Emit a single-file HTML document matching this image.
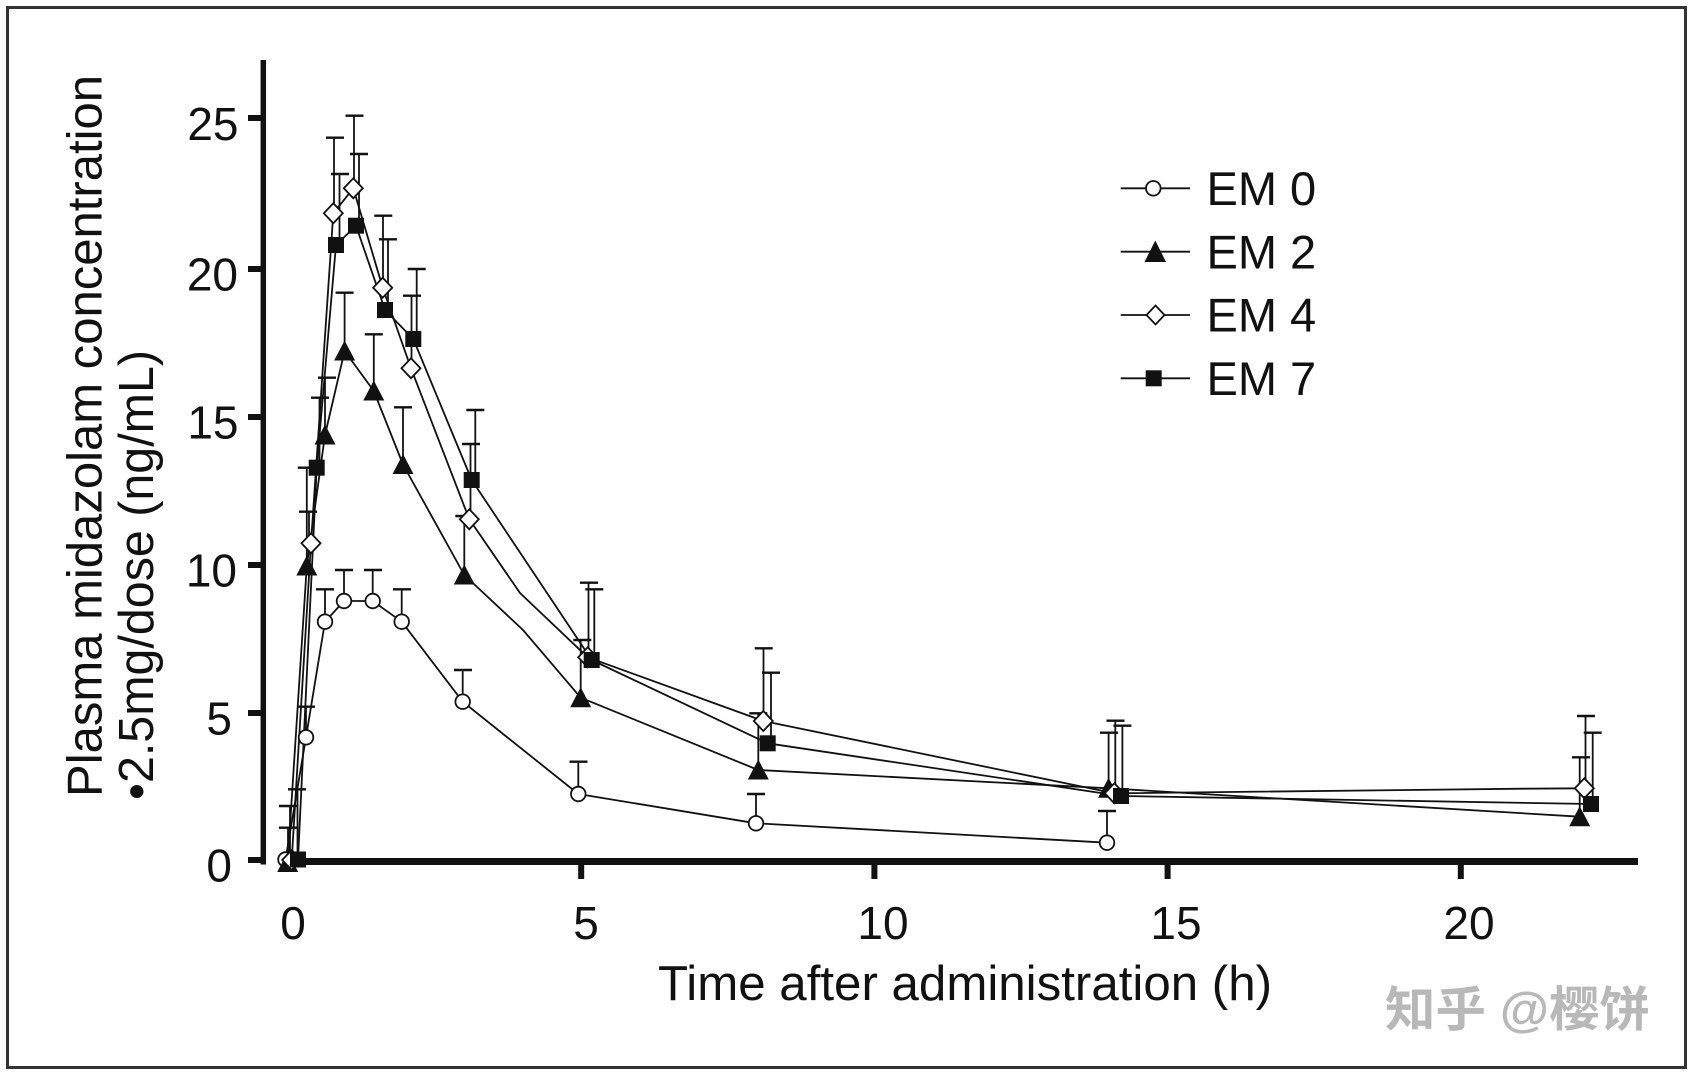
<!DOCTYPE html>
<html>
<head>
<meta charset="utf-8">
<style>
html,body{margin:0;padding:0;background:#fff;}
svg{display:block;}
text{font-family:"Liberation Sans",Arial,sans-serif;fill:#111;}
</style>
</head>
<body>
<svg width="1694" height="1075" viewBox="0 0 1694 1075" xmlns="http://www.w3.org/2000/svg">
<rect x="0" y="0" width="1694" height="1075" fill="#fff"/>
<rect x="7.5" y="7.5" width="1678" height="1060" fill="none" stroke="#333" stroke-width="3"/>

<!-- axes -->
<line x1="263.3" y1="60" x2="263.3" y2="864.5" stroke="#111" stroke-width="5.5"/>
<line x1="290" y1="861.5" x2="1638" y2="861.5" stroke="#111" stroke-width="7"/>
<g fill="#111">
<rect x="248" y="115" width="15" height="6"/>
<rect x="248" y="266" width="15" height="6"/>
<rect x="248" y="414" width="15" height="6"/>
<rect x="248" y="562" width="15" height="6"/>
<rect x="248" y="710" width="15" height="6"/>
<rect x="248" y="857" width="15" height="6"/>
<rect x="578.2" y="864" width="6" height="15"/>
<rect x="871.4" y="864" width="6" height="15"/>
<rect x="1164.6" y="864" width="6" height="15"/>
<rect x="1457.8" y="864" width="6" height="15"/>
</g>

<!-- tick labels -->
<g font-size="46" text-anchor="end">
<text x="238.5" y="140">25</text>
<text x="238" y="290.5">20</text>
<text x="238.5" y="438.5">15</text>
<text x="237" y="586.5">10</text>
<text x="232" y="734.5">5</text>
<text x="232" y="881.5">0</text>
</g>
<g font-size="46" text-anchor="middle">
<text x="293" y="939">0</text>
<text x="586" y="939">5</text>
<text x="883" y="939">10</text>
<text x="1176" y="939">15</text>
<text x="1469" y="939">20</text>
</g>

<!-- axis titles -->
<text x="658" y="1000" font-size="49" textLength="614" lengthAdjust="spacingAndGlyphs">Time after administration (h)</text>
<text transform="translate(101.7,797) rotate(-90)" font-size="49" textLength="722" lengthAdjust="spacingAndGlyphs">Plasma midazolam concentration</text>
<text transform="translate(153,800) rotate(-90)" font-size="49" textLength="450" lengthAdjust="spacingAndGlyphs">•2.5mg/dose (ng/mL)</text>

<!-- error bars -->
<g stroke="#111" fill="none">
<g stroke-width="1.8">
<!-- EM0 -->
<line x1="306" y1="737.3" x2="306" y2="706.7"/>
<line x1="325" y1="621.7" x2="325" y2="589.3"/>
<line x1="344" y1="601" x2="344" y2="570"/>
<line x1="372.7" y1="601" x2="372.7" y2="570"/>
<line x1="401.7" y1="621.7" x2="401.7" y2="589.3"/>
<line x1="462.7" y1="701.7" x2="462.7" y2="670"/>
<line x1="578.3" y1="794" x2="578.3" y2="761.7"/>
<line x1="756" y1="823.3" x2="756" y2="794"/>
<line x1="1107" y1="842.7" x2="1107" y2="811"/>
<!-- EM2 -->
<line x1="288" y1="861" x2="288" y2="827.7"/>
<line x1="306.8" y1="566" x2="306.8" y2="467.7"/>
<line x1="325" y1="435" x2="325" y2="377.7"/>
<line x1="344.6" y1="351" x2="344.6" y2="292.7"/>
<line x1="373.8" y1="391" x2="373.8" y2="334.3"/>
<line x1="403" y1="464.5" x2="403" y2="407.3"/>
<line x1="464.3" y1="575" x2="464.3" y2="516"/>
<line x1="580.7" y1="697.7" x2="580.7" y2="640"/>
<line x1="758.3" y1="770" x2="758.3" y2="713.3"/>
<line x1="1108.6" y1="788.3" x2="1108.6" y2="732.7"/>
<line x1="1579.7" y1="816.7" x2="1579.7" y2="757.3"/>
<!-- EM4 -->
<line x1="290" y1="860" x2="290" y2="806"/>
<line x1="309" y1="543.3" x2="309" y2="511.7"/>
<line x1="334" y1="213.3" x2="334" y2="137.7"/>
<line x1="354" y1="188.3" x2="354" y2="115.7"/>
<line x1="383" y1="287.7" x2="383" y2="215.7"/>
<line x1="411.5" y1="368.3" x2="411.5" y2="295.7"/>
<line x1="470.5" y1="519.3" x2="470.5" y2="444"/>
<line x1="588.5" y1="657.3" x2="588.5" y2="582.7"/>
<line x1="763.5" y1="721" x2="763.5" y2="648.3"/>
<line x1="1115.3" y1="793.3" x2="1115.3" y2="720.7"/>
<line x1="1585.5" y1="788.3" x2="1585.5" y2="716"/>
<!-- EM7 -->
<line x1="297.5" y1="859.5" x2="297.5" y2="789.3"/>
<line x1="319.5" y1="467.7" x2="319.5" y2="397.7"/>
<line x1="339.5" y1="245" x2="339.5" y2="174"/>
<line x1="359" y1="225.7" x2="359" y2="154"/>
<line x1="388" y1="310" x2="388" y2="239.3"/>
<line x1="416.7" y1="339" x2="416.7" y2="269"/>
<line x1="475.3" y1="480" x2="475.3" y2="410"/>
<line x1="594.3" y1="660" x2="594.3" y2="589.3"/>
<line x1="771" y1="743.3" x2="771" y2="672.7"/>
<line x1="1122.4" y1="796" x2="1122.4" y2="725.7"/>
<line x1="1592.7" y1="804" x2="1592.7" y2="732.7"/>
</g>
<g stroke-width="2.4">
<!-- caps EM0 -->
<line x1="297" y1="706.7" x2="315" y2="706.7"/>
<line x1="316" y1="589.3" x2="334" y2="589.3"/>
<line x1="335" y1="570" x2="353" y2="570"/>
<line x1="364" y1="570" x2="382" y2="570"/>
<line x1="393" y1="589.3" x2="411" y2="589.3"/>
<line x1="454" y1="670" x2="472" y2="670"/>
<line x1="569.5" y1="761.7" x2="587.5" y2="761.7"/>
<line x1="747" y1="794" x2="765" y2="794"/>
<line x1="1098" y1="811" x2="1116" y2="811"/>
<!-- caps EM2 -->
<line x1="279" y1="827.7" x2="297" y2="827.7"/>
<line x1="297.8" y1="467.7" x2="315.8" y2="467.7"/>
<line x1="318" y1="377.7" x2="336" y2="377.7"/>
<line x1="335.6" y1="292.7" x2="353.6" y2="292.7"/>
<line x1="364.8" y1="334.3" x2="382.8" y2="334.3"/>
<line x1="394" y1="407.3" x2="412" y2="407.3"/>
<line x1="455.3" y1="516" x2="473.3" y2="516"/>
<line x1="573.3" y1="640" x2="591.3" y2="640"/>
<line x1="749.3" y1="713.3" x2="767.3" y2="713.3"/>
<line x1="1100" y1="732.7" x2="1118" y2="732.7"/>
<line x1="1572" y1="757.3" x2="1590" y2="757.3"/>
<!-- caps EM4 -->
<line x1="279" y1="806" x2="297" y2="806"/>
<line x1="299" y1="511.7" x2="317" y2="511.7"/>
<line x1="326" y1="137.7" x2="344" y2="137.7"/>
<line x1="345.5" y1="115.7" x2="363.5" y2="115.7"/>
<line x1="374.3" y1="215.7" x2="392.3" y2="215.7"/>
<line x1="403" y1="295.7" x2="421" y2="295.7"/>
<line x1="462" y1="444" x2="480" y2="444"/>
<line x1="580" y1="582.7" x2="598" y2="582.7"/>
<line x1="754.7" y1="648.3" x2="772.7" y2="648.3"/>
<line x1="1106.5" y1="720.7" x2="1124.5" y2="720.7"/>
<line x1="1577" y1="716" x2="1595" y2="716"/>
<!-- caps EM7 -->
<line x1="288" y1="789.3" x2="306" y2="789.3"/>
<line x1="311" y1="397.7" x2="329" y2="397.7"/>
<line x1="331" y1="174" x2="349" y2="174"/>
<line x1="350" y1="154" x2="368" y2="154"/>
<line x1="379" y1="239.3" x2="397" y2="239.3"/>
<line x1="407.7" y1="269" x2="425.7" y2="269"/>
<line x1="466.3" y1="410" x2="484.3" y2="410"/>
<line x1="585.3" y1="589.3" x2="603.3" y2="589.3"/>
<line x1="762" y1="672.7" x2="780" y2="672.7"/>
<line x1="1113.4" y1="725.7" x2="1131.4" y2="725.7"/>
<line x1="1583.7" y1="732.7" x2="1601.7" y2="732.7"/>
</g>
</g>

<!-- series lines -->
<g fill="none" stroke="#111" stroke-width="1.8" stroke-linejoin="round">
<polyline points="285.5,859.5 306,737.3 325,621.7 344,601 372.7,601 401.7,621.7 462.7,701.7 578.3,794 756,823.3 1107,842.7"/>
<polyline points="287.7,861 306.8,566 325,435 344.6,351 373.8,391 403,464.5 464.3,575 523,630 580.7,697.7 758.3,770 1108.6,788.3 1579.7,816.7"/>
<polyline points="291.7,860 311,543.3 333.3,213.3 353.3,188.3 382.7,287.7 411,368.3 469.3,519.3 520,593 587.7,657.3 763.3,721 1114.3,793.3 1523,788.7 1584.3,788.3"/>
<polyline points="298,859.5 316.7,467.7 336,245 356,225.7 385,310 413.3,339 471.7,480 591.7,660 767.7,743.3 1121,796 1591,804"/>
</g>

<!-- markers EM0 circles -->
<g fill="#fff" stroke="#111" stroke-width="1.8">
<circle cx="285.5" cy="859.5" r="7.3"/>
<circle cx="306" cy="737.3" r="7.3"/>
<circle cx="325" cy="621.7" r="7.3"/>
<circle cx="344" cy="601" r="7.3"/>
<circle cx="372.7" cy="601" r="7.3"/>
<circle cx="401.7" cy="621.7" r="7.3"/>
<circle cx="462.7" cy="701.7" r="7.3"/>
<circle cx="578.3" cy="794" r="7.3"/>
<circle cx="756" cy="823.3" r="7.3"/>
<circle cx="1107" cy="842.7" r="7.3"/>
</g>
<!-- EM2 triangles -->
<g fill="#111">
<polygon points="287.7,852 277.2,872 298.2,872"/>
<polygon points="306.8,555.5 296.3,575.5 317.3,575.5"/>
<polygon points="325,424.5 314.5,444.5 335.5,444.5"/>
<polygon points="344.6,340.5 334.1,360.5 355.1,360.5"/>
<polygon points="373.8,380.5 363.3,400.5 384.3,400.5"/>
<polygon points="403,454 392.5,474 413.5,474"/>
<polygon points="464.3,564.5 453.8,584.5 474.8,584.5"/>
<polygon points="580.7,687.2 570.2,707.2 591.2,707.2"/>
<polygon points="758.3,759.5 747.8,779.5 768.8,779.5"/>
<polygon points="1108.6,777.8 1098.1,797.8 1119.1,797.8"/>
<polygon points="1579.7,806.2 1569.2,826.2 1590.2,826.2"/>
</g>
<!-- EM4 diamonds -->
<g fill="#fff" stroke="#111" stroke-width="1.8">
<polygon points="291.7,850 301.2,860 291.7,870 282.2,860"/>
<polygon points="311,533.3 320.5,543.3 311,553.3 301.5,543.3"/>
<polygon points="333.3,203.3 342.8,213.3 333.3,223.3 323.8,213.3"/>
<polygon points="353.3,178.3 362.8,188.3 353.3,198.3 343.8,188.3"/>
<polygon points="382.7,277.7 392.2,287.7 382.7,297.7 373.2,287.7"/>
<polygon points="411,358.3 420.5,368.3 411,378.3 401.5,368.3"/>
<polygon points="469.3,509.3 478.8,519.3 469.3,529.3 459.8,519.3"/>
<polygon points="587.7,647.3 597.2,657.3 587.7,667.3 578.2,657.3"/>
<polygon points="763.3,711 772.8,721 763.3,731 753.8,721"/>
<polygon points="1114.3,783.3 1123.8,793.3 1114.3,803.3 1104.8,793.3"/>
<polygon points="1584.3,778.3 1593.8,788.3 1584.3,798.3 1574.8,788.3"/>
</g>
<!-- EM7 squares -->
<g fill="#111">
<rect x="290" y="851.5" width="16" height="16"/>
<rect x="308.7" y="459.7" width="16" height="16"/>
<rect x="328" y="237" width="16" height="16"/>
<rect x="348" y="217.7" width="16" height="16"/>
<rect x="377" y="302" width="16" height="16"/>
<rect x="405.3" y="331" width="16" height="16"/>
<rect x="463.7" y="472" width="16" height="16"/>
<rect x="583.7" y="652" width="16" height="16"/>
<rect x="759.7" y="735.3" width="16" height="16"/>
<rect x="1113" y="788" width="16" height="16"/>
<rect x="1583" y="796" width="16" height="16"/>
</g>

<!-- legend -->
<g stroke="#111" stroke-width="1.8">
<line x1="1120.7" y1="188.3" x2="1190" y2="188.3"/>
<line x1="1120.7" y1="251.7" x2="1190" y2="251.7"/>
<line x1="1120.7" y1="315" x2="1190" y2="315"/>
<line x1="1120.7" y1="378.3" x2="1190" y2="378.3"/>
</g>
<circle cx="1153.3" cy="188.3" r="7.3" fill="#fff" stroke="#111" stroke-width="1.8"/>
<polygon points="1155.3,240.5 1144.5,262 1166,262" fill="#111"/>
<polygon points="1155.5,305.5 1164.5,315 1155.5,324.5 1146.5,315" fill="#fff" stroke="#111" stroke-width="1.8"/>
<rect x="1145.7" y="370.3" width="16" height="16" fill="#111"/>
<g font-size="47">
<text x="1206.5" y="205">EM 0</text>
<text x="1206.5" y="268.3">EM 2</text>
<text x="1206.5" y="331.7">EM 4</text>
<text x="1206.5" y="395">EM 7</text>
</g>

<!-- watermark -->
<text x="1385" y="1026" font-size="48" font-weight="bold" textLength="265" lengthAdjust="spacingAndGlyphs" style="font-family:'Liberation Sans','Noto Sans CJK SC',sans-serif;fill:#b8b8b8;">知乎 @樱饼</text>
</svg>
</body>
</html>
